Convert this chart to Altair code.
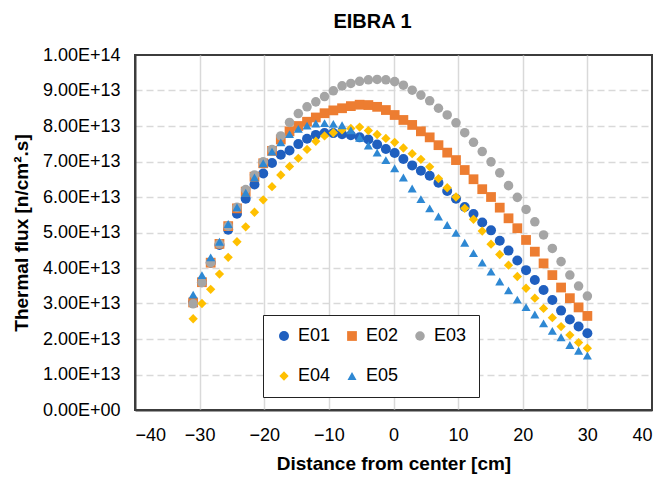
import altair as alt
import pandas as pd

# Distance from center [cm] (measurement positions, shared by all series)
distance_cm = [-31.00, -29.64, -28.29, -26.93, -25.58, -24.22, -22.87, -21.51, -20.16, -18.80,
               -17.44, -16.09, -14.73, -13.38, -12.02, -10.67, -9.31, -7.96, -6.60, -5.24,
               -3.89, -2.53, -1.18, 0.18, 1.53, 2.89, 4.24, 5.60, 6.96, 8.31,
               9.67, 11.02, 12.38, 13.73, 15.09, 16.44, 17.80, 19.16, 20.51, 21.87,
               23.22, 24.58, 25.93, 27.29, 28.64, 30.00]

series_names = ["E01", "E02", "E03", "E04", "E05"]

# Thermal flux in units of 1E+13 n/cm2.s
e01 = [3.05, 3.60, 4.15, 4.65, 5.08, 5.53, 5.95, 6.35, 6.66, 6.96,
       7.19, 7.31, 7.49, 7.64, 7.75, 7.80, 7.80, 7.77, 7.74, 7.68,
       7.62, 7.48, 7.35, 7.24, 7.07, 6.89, 6.74, 6.60, 6.40, 6.17,
       5.95, 5.72, 5.52, 5.28, 5.06, 4.77, 4.49, 4.21, 3.94, 3.66,
       3.38, 3.10, 2.80, 2.55, 2.35, 2.16]
e02 = [3.03, 3.60, 4.15, 4.68, 5.18, 5.68, 6.15, 6.57, 6.95, 7.30,
       7.62, 7.85, 8.00, 8.12, 8.24, 8.36, 8.44, 8.50, 8.56, 8.60,
       8.59, 8.54, 8.45, 8.31, 8.17, 8.03, 7.85, 7.68, 7.46, 7.25,
       7.04, 6.76, 6.50, 6.22, 6.00, 5.70, 5.40, 5.12, 4.79, 4.46,
       4.13, 3.80, 3.45, 3.15, 2.89, 2.65]
e03 = [2.99, 3.59, 4.15, 4.68, 5.18, 5.71, 6.21, 6.62, 6.99, 7.34,
       7.72, 8.10, 8.35, 8.54, 8.68, 8.83, 8.99, 9.13, 9.20, 9.26,
       9.30, 9.31, 9.30, 9.25, 9.15, 9.01, 8.87, 8.71, 8.50, 8.31,
       8.09, 7.81, 7.54, 7.28, 6.99, 6.68, 6.32, 5.99, 5.65, 5.30,
       4.93, 4.55, 4.18, 3.80, 3.49, 3.21]
e04 = [2.57, 3.00, 3.40, 3.83, 4.30, 4.74, 5.16, 5.57, 5.92, 6.29,
       6.62, 6.86, 7.09, 7.34, 7.57, 7.72, 7.81, 7.89, 7.93, 7.97,
       7.87, 7.76, 7.65, 7.54, 7.38, 7.22, 7.06, 6.85, 6.52, 6.26,
       6.00, 5.68, 5.37, 5.04, 4.67, 4.38, 4.08, 3.76, 3.43, 3.15,
       2.86, 2.60, 2.35, 2.11, 1.90, 1.74]
e05 = [3.25, 3.80, 4.30, 4.74, 5.24, 5.71, 6.12, 6.55, 6.95, 7.28,
       7.54, 7.77, 7.92, 8.01, 8.07, 8.08, 8.06, 8.02, 7.88, 7.67,
       7.45, 7.25, 7.04, 6.81, 6.55, 6.24, 5.94, 5.68, 5.45, 5.21,
       4.99, 4.71, 4.42, 4.15, 3.90, 3.62, 3.37, 3.11, 2.90, 2.69,
       2.44, 2.23, 2.05, 1.83, 1.67, 1.53]

y_tick_values = [0, 1e13, 2e13, 3e13, 4e13, 5e13, 6e13, 7e13, 8e13, 9e13, 1e14]
x_tick_values = [-40, -30, -20, -10, 0, 10, 20, 30, 40]

colors = ["#1F5FBF", "#ED7D31", "#A5A5A5", "#FFC000", "#2E88D3"]
shapes = ["circle", "square", "circle", "diamond", "triangle-up"]
sizes = [100, 82, 100, 90, 105]

rows = []
for k, (name, vals) in enumerate(zip(series_names, [e01, e02, e03, e04, e05])):
    for x, v in zip(distance_cm, vals):
        rows.append({"series": name, "distance": x, "flux": v * 1e13, "k": k})
df = pd.DataFrame(rows)

FONT = "Liberation Sans"

chart = alt.Chart(df).mark_point(filled=True, opacity=1).encode(
    x=alt.X("distance:Q",
            scale=alt.Scale(domain=[-40, 40], nice=False, zero=False),
            axis=alt.Axis(values=x_tick_values, title="Distance from center [cm]",
                          gridOpacity={"condition": {"test": "datum.value == -40 || datum.value == 40", "value": 0}, "value": 1},
                          labelPadding=16, titlePadding=10)),
    y=alt.Y("flux:Q",
            scale=alt.Scale(domain=[0, 1e14], nice=False),
            axis=alt.Axis(values=y_tick_values, title="Thermal flux [n/cm².s]",
                          labelExpr="datum.value == 0 ? '0.00E+00' : replace(format(datum.value, '.2e'), 'e', 'E')",
                          gridDash=[7, 4],
                          gridOpacity={"condition": {"test": "datum.value == 0 || datum.value >= 1e14", "value": 0}, "value": 1},
                          labelPadding=15, titlePadding=11)),
    color=alt.Color("series:N", scale=alt.Scale(domain=series_names, range=colors),
                    legend=alt.Legend(orient="none", legendX=128, legendY=260, columns=3, direction="horizontal",
                                      title=None,
                                      labelFontSize=18, labelFont=FONT, labelColor="black",
                                      symbolSize=75, symbolStrokeWidth=0, labelOffset=5,
                                      padding=12, rowPadding=22, columnPadding=12,
                                      strokeColor="#222222", fillColor="white")),
    shape=alt.Shape("series:N", scale=alt.Scale(domain=series_names, range=shapes)),
    size=alt.Size("series:O", scale=alt.Scale(domain=series_names, range=sizes), legend=None),
    order=alt.Order("k:Q"),
).properties(
    width=517, height=355,
    padding={"left": 135, "top": 55, "right": 14, "bottom": 67},
    autosize=alt.AutoSizeParams(type="none"),
    title=alt.TitleParams("EIBRA 1", fontSize=20, font=FONT, fontWeight="bold", color="black",
                          anchor="middle", dx=-21, offset=14),
).configure_view(
    stroke="#3c3c3c", strokeWidth=2
).configure_axis(
    labelFont=FONT, labelFontSize=18, labelColor="black",
    titleFont=FONT, titleFontSize=19, titleFontWeight="bold", titleColor="black",
    ticks=False, tickSize=0, domainColor="#3c3c3c", domainWidth=2,
    gridColor="#d9d9d9", gridWidth=1.5,
)

chart.save("out.html", embed_options={"renderer": "svg", "actions": False})
